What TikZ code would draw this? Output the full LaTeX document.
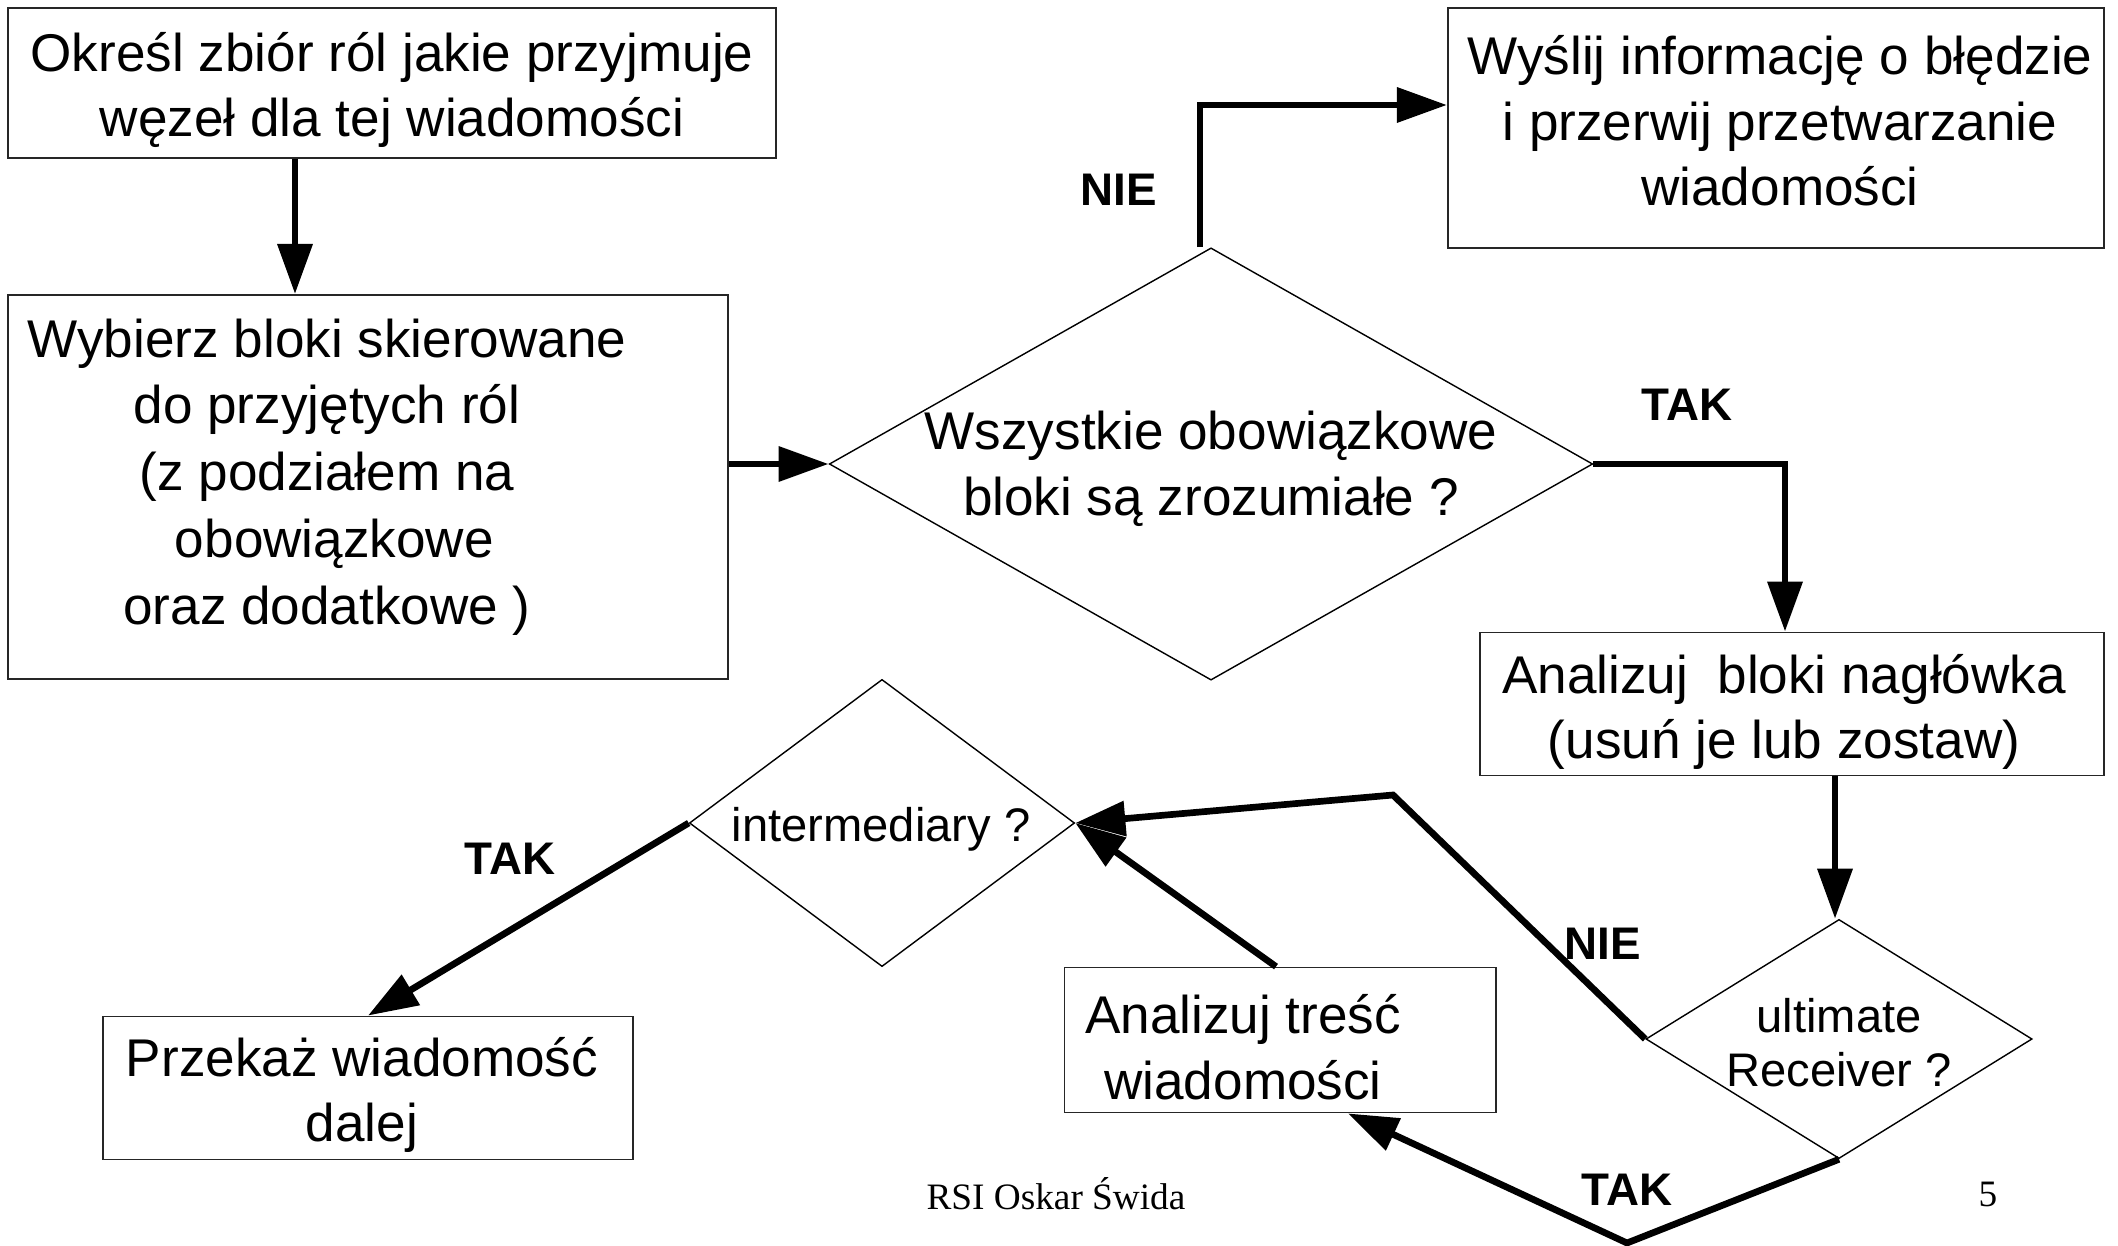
\documentclass[tikz,border=0pt]{standalone}
\usepackage{fontspec}
\setmainfont{Liberation Sans}
\newfontfamily\stopka{Liberation Serif}
\usetikzlibrary{arrows.meta, shapes.geometric}

\begin{document}
\begin{tikzpicture}[
            x=0.01cm, y=-0.01cm,
            >={Triangle[length=0.5cm, width=0.34cm]},
            box/.style={rectangle, draw=black!85, line width=0.5pt, inner sep=0pt},
            decision/.style={diamond, draw, line width=0.4pt, inner sep=0pt},
            txt/.style={align=center, inner sep=0pt, font=\fontsize{15.1}{18.6}\selectfont},
            smalltxt/.style={align=center, inner sep=0pt, font=\fontsize{13.4}{15.4}\selectfont},
            lbl/.style={inner sep=0pt, font=\fontsize{13}{15}\selectfont\bfseries},
            flow/.style={->, line width=1.9pt}
        ]

        \useasboundingbox (0,0) rectangle (2118,1246);

        % Bloki
        \node[box, minimum width=7.68cm, minimum height=1.50cm] (A) at (392,83) {};
        \node[box, minimum width=7.20cm, minimum height=3.84cm] (B) at (368,487) {};
        \node[box, minimum width=6.56cm, minimum height=2.40cm] (D) at (1776,128) {};
        \node[box, minimum width=6.24cm, minimum height=1.43cm] (E) at (1792,704) {};
        \node[box, minimum width=4.31cm, minimum height=1.45cm] (G) at (1280,1040) {};
        \node[box, minimum width=5.29cm, minimum height=1.43cm] (I) at (368,1088) {};

        % Decyzje
        \node[decision, minimum width=7.63cm, minimum height=4.32cm] (C) at (1211,464) {};
        \node[decision, minimum width=3.86cm, minimum height=2.39cm] (F) at (1839,1039) {};
        \node[decision, minimum width=3.85cm, minimum height=2.87cm] (H) at (882,823) {};

        % Teksty
        \node[txt] (tA) at (392,90) {Określ zbiór ról jakie przyjmuje\\węzeł dla tej wiadomości};
        \node[txt, font=\fontsize{15.1}{19.0}\selectfont] (tB) at (327,477) {Wybierz bloki skierowane\\do przyjętych ról\\(z podziałem na\\\ obowiązkowe\\oraz dodatkowe )};
        \node[txt] (tC) at (1211,469) {Wszystkie obowiązkowe\\bloki są zrozumiałe ?};
        \node[txt] (tD) at (1780,121) {Wyślij informację o błędzie\\i przerwij przetwarzanie\\wiadomości};
        \node[txt] (tE) at (1784,712) {Analizuj\ \ bloki nagłówka\\(usuń je lub zostaw)};
        \node[smalltxt] (tF) at (1839,1043) {ultimate\\Receiver ?};
        \node[txt] (tG) at (1243,1047) {Analizuj treść\\wiadomości};
        \node[smalltxt] (tH) at (881,829) {intermediary ?};
        \node[txt] (tI) at (362,1095) {Przekaż wiadomość\\dalej};

        % Punkty pomocnicze
        \coordinate (ab) at (295,0);
        \coordinate (cd) at (1200,105);
        \coordinate (ef) at (1835,0);
        \coordinate (fh) at (1393,795);
        \coordinate (fg) at (1627,1243);

        % Strzałki
        \draw[flow] (A.south -| ab) -- (B.north -| ab);
        \draw[flow] (B.east |- C.west) -- (C.west);
        \draw[flow] (C.north -| cd) -- (cd) -- (D.west |- cd);
        \draw[flow] (C.east) -| ([xshift=-0.07cm]E.north);
        \draw[flow] (E.south -| ef) -- (F.north -| ef);
        \draw[flow] (F.west) -- (fh) -- (H.east);
        \draw[flow] (F.south) -- (fg) -- ([xshift=0.68cm]G.south);
        \draw[flow] ([xshift=-0.04cm]G.north) -- (H.east);
        \draw[flow] (H.west) -- (I.north);

        % Etykiety
        \node[lbl] (nie1) at (1119,190) {NIE};
        \node[lbl] (tak1) at (1687,405) {TAK};
        \node[lbl] (nie2) at (1603,944) {NIE};
        \node[lbl] (tak2) at (1627,1190) {TAK};
        \node[lbl] (tak3) at (510,859) {TAK};

        % Stopka
        \node[inner sep=0pt, font=\stopka\fontsize{10.6}{12}\selectfont] (autor) at (1056,1194) {RSI Oskar Świda};
        \node[inner sep=0pt, font=\stopka\fontsize{10.6}{12}\selectfont] (strona) at (1988,1194) {5};

        \end{tikzpicture}
\end{document}
